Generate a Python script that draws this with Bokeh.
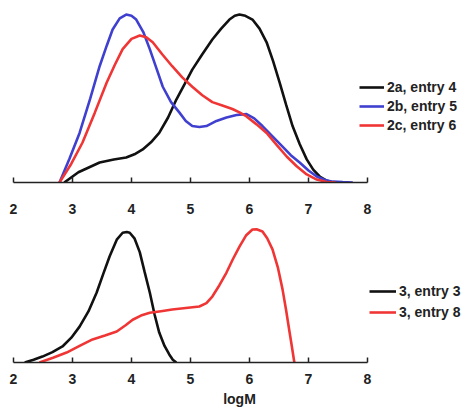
from bokeh.plotting import figure
from bokeh.models import Range1d, Legend, LegendItem, FixedTicker
from bokeh.layouts import column
from bokeh.embed import file_html
from bokeh.resources import INLINE

# ---- data ----
ticks = [2, 3, 4, 5, 6, 7, 8]

a_x = [2.86, 3.1, 3.46, 3.7, 3.91, 4.05, 4.19, 4.33, 4.47, 4.62, 4.76, 4.9, 5.03, 5.2, 5.37, 5.52, 5.66, 5.75, 5.83, 5.93, 6.05, 6.17, 6.29, 6.4, 6.51, 6.62, 6.73, 6.85, 6.97, 7.08, 7.19, 7.3, 7.41]
a_y = [0.0, 0.06, 0.117, 0.135, 0.146, 0.165, 0.193, 0.235, 0.29, 0.38, 0.485, 0.575, 0.66, 0.75, 0.836, 0.9, 0.953, 0.975, 0.982, 0.975, 0.953, 0.9, 0.82, 0.71, 0.585, 0.455, 0.33, 0.225, 0.135, 0.075, 0.035, 0.012, 0.0]

b_x = [2.78, 2.95, 3.12, 3.3, 3.46, 3.58, 3.68, 3.8, 3.91, 4.0, 4.08, 4.2, 4.31, 4.42, 4.53, 4.67, 4.81, 4.92, 5.03, 5.15, 5.27, 5.44, 5.61, 5.78, 5.95, 6.08, 6.22, 6.39, 6.56, 6.7, 6.85, 7.0, 7.14, 7.28, 7.41, 7.58, 7.75]
b_y = [0.0, 0.14, 0.29, 0.49, 0.68, 0.8, 0.895, 0.96, 0.982, 0.975, 0.953, 0.88, 0.78, 0.67, 0.56, 0.47, 0.41, 0.36, 0.33, 0.325, 0.33, 0.36, 0.38, 0.395, 0.40, 0.375, 0.33, 0.27, 0.21, 0.16, 0.117, 0.07, 0.035, 0.015, 0.005, 0.002, 0.0]

c_x = [2.78, 2.98, 3.17, 3.38, 3.58, 3.72, 3.85, 4.0, 4.14, 4.25, 4.36, 4.52, 4.69, 4.86, 5.03, 5.2, 5.37, 5.54, 5.71, 5.83, 5.95, 6.12, 6.29, 6.46, 6.63, 6.8, 6.97, 7.14, 7.31, 7.46]
c_y = [0.0, 0.11, 0.234, 0.41, 0.585, 0.69, 0.78, 0.84, 0.86, 0.85, 0.82, 0.75, 0.68, 0.615, 0.56, 0.51, 0.47, 0.45, 0.43, 0.41, 0.386, 0.34, 0.29, 0.22, 0.152, 0.095, 0.047, 0.017, 0.003, 0.0]

d_x = [2.19, 2.34, 2.49, 2.66, 2.83, 2.98, 3.12, 3.27, 3.41, 3.52, 3.63, 3.75, 3.85, 3.92, 3.97, 4.05, 4.14, 4.22, 4.31, 4.39, 4.47, 4.56, 4.64, 4.7, 4.76]
d_y = [0.0, 0.02, 0.043, 0.075, 0.116, 0.18, 0.26, 0.37, 0.507, 0.64, 0.77, 0.89, 0.94, 0.945, 0.94, 0.9, 0.80, 0.66, 0.507, 0.35, 0.217, 0.12, 0.058, 0.02, 0.0]

e_x = [2.44, 2.67, 2.90, 3.12, 3.34, 3.55, 3.75, 3.9, 4.02, 4.16, 4.31, 4.5, 4.69, 4.92, 5.15, 5.27, 5.37, 5.49, 5.61, 5.72, 5.83, 5.94, 6.05, 6.12, 6.22, 6.3, 6.39, 6.48, 6.56, 6.62, 6.68, 6.72, 6.76]
e_y = [0.0, 0.035, 0.072, 0.12, 0.167, 0.195, 0.225, 0.27, 0.31, 0.34, 0.36, 0.372, 0.384, 0.395, 0.406, 0.43, 0.478, 0.56, 0.652, 0.75, 0.84, 0.92, 0.964, 0.965, 0.95, 0.9, 0.82, 0.69, 0.53, 0.38, 0.217, 0.11, 0.0]

top_labels = ["2a, entry 4", "2b, entry 5", "2c, entry 6"]
bot_labels = ["3, entry 3", "3, entry 8"]

BLACK = "#111111"
BLUE = "#4040d0"
RED = "#f03535"
FONT = "Liberation Sans"

FRAME_W = 452
X_END = 2 + FRAME_W / 59.0


def make_fig(fh, top, bottom):
    p = figure(frame_width=FRAME_W, frame_height=fh, x_range=Range1d(2, X_END), y_range=Range1d(0, 1),
               y_axis_location=None, toolbar_location=None, output_backend="svg",
               min_border_left=13, min_border_right=0, min_border_top=top, min_border_bottom=bottom)
    p.outline_line_color = None
    p.xgrid.visible = False
    p.ygrid.visible = False
    ax = p.xaxis[0]
    ax.bounds = (2, 8)
    ax.ticker = FixedTicker(ticks=ticks)
    ax.major_tick_in = 5
    ax.major_tick_out = 0
    ax.minor_tick_line_color = None
    ax.axis_line_width = 1.6
    ax.axis_line_color = "#222222"
    ax.major_tick_line_width = 1.5
    ax.major_tick_line_color = "#222222"
    ax.major_label_text_font = FONT
    ax.major_label_text_font_style = "bold"
    ax.major_label_text_font_size = "14px"
    ax.major_label_text_color = "#222222"
    return p


def make_legend(items, loc, gw, spacing):
    lg = Legend(items=items, location=loc, padding=0, margin=0, spacing=spacing,
                glyph_width=gw, glyph_height=16, label_height=16, label_standoff=3,
                border_line_color=None, background_fill_alpha=0,
                label_text_font=FONT, label_text_font_style="bold",
                label_text_font_size="14px", label_text_color="#222222")
    return lg


top = make_fig(171, 11, 39)
top.xaxis[0].major_label_standoff = 21
ra = top.line(a_x, a_y, line_color=BLACK, line_width=2.6)
rb = top.line(b_x, b_y, line_color=BLUE, line_width=2.6)
rc = top.line(c_x, c_y, line_color=RED, line_width=2.6)
lg1 = make_legend([LegendItem(label=top_labels[0], renderers=[ra]),
                   LegendItem(label=top_labels[1], renderers=[rb]),
                   LegendItem(label=top_labels[2], renderers=[rc])], (346, 49), 25, 3)
top.add_layout(lg1)

bot = make_fig(138, 3, 46)
bax = bot.xaxis[0]
bax.major_label_standoff = 11
bax.axis_label = "logM"
bax.axis_label_standoff = 4
bax.axis_label_text_font = FONT
bax.axis_label_text_font_style = "bold"
bax.axis_label_text_font_size = "14px"
bax.axis_label_text_color = "#222222"
rd = bot.line(d_x, d_y, line_color=BLACK, line_width=2.6)
re = bot.line(e_x, e_y, line_color=RED, line_width=2.6)
lg2 = make_legend([LegendItem(label=bot_labels[0], renderers=[rd]),
                   LegendItem(label=bot_labels[1], renderers=[re])], (356, 42), 27, 5)
bot.add_layout(lg2)

layout = column(top, bot, spacing=0)
open("out.html", "w").write(file_html(layout, INLINE))
